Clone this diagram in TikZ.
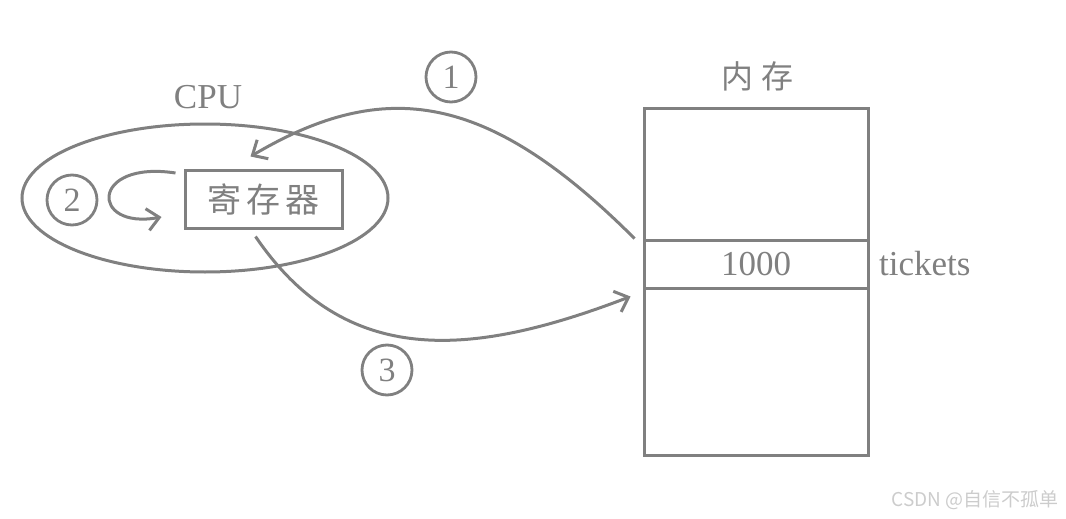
\documentclass[tikz,border=0pt]{standalone}
\usepackage{fontspec}
\setmainfont{Liberation Serif}
\newfontfamily\cjk{Noto Sans CJK SC}
\usetikzlibrary{shapes.geometric, arrows.meta}
\definecolor{pen}{RGB}{128,128,128}
\tikzstyle{title} = [text=pen, font=\fontsize{35}{40}\selectfont]
\tikzstyle{num} = [circle, draw=pen, line width=2.8pt, minimum size=50pt, inner sep=0pt, text=pen, font=\fontsize{34}{36}\selectfont]
\tikzstyle{reg} = [rectangle, draw=pen, line width=3pt, minimum width=157pt, minimum height=58pt, text=pen, font=\cjk\fontsize{34}{38}\selectfont]
\tikzstyle{cell} = [rectangle, draw=pen, line width=3pt, minimum width=224pt, minimum height=48pt, text=pen, font=\fontsize{35}{40}\selectfont]
\tikzstyle{arrow} = [draw=pen, line width=3pt, -{Straight Barb[length=12pt,width=22pt]}]

\begin{document}
\begin{tikzpicture}[x=1pt, y=-1pt]
		\useasboundingbox (0,0) rectangle (1066,519);
		% CPU side
		\node (cpu) [ellipse, draw=pen, line width=3pt, minimum width=366pt, minimum height=148pt] at (205,198) {};
		\node (cpuname) [title] at (208,97) {CPU};
		\node (r) [reg] at (263.5,199) {寄\hspace{5pt}存\hspace{5pt}器};
		\node (n2) [num] at (72,200) {2};
		% memory side
		\node (mem) [rectangle, draw=pen, line width=3pt, minimum width=224pt, minimum height=347pt] at (756,281.5) {};
		\node (memname) [title, font=\cjk\fontsize{32}{36}\selectfont] at (757,76) {内\hspace{8pt}存};
		\node (c) [cell] at (756,264) {1000};
		\node (tk) [title, anchor=west, xshift=6pt] at (c.east) {tickets};
		\node (n1) [num] at (451,77) {1};
		\node (n3) [num] at (387,370) {3};

		\coordinate (a1s) at ([xshift=-8pt]c.north west);
		\coordinate (a1e) at ([xshift=67pt, yshift=12pt]r.north west);
		\coordinate (a3s) at ([xshift=-8pt, yshift=-7pt]r.south);
		\coordinate (a3e) at ([xshift=-12pt, yshift=-7pt]c.south west);
		\coordinate (a2s) at ([xshift=-8pt, yshift=26pt]r.west);
		\coordinate (a2e) at ([xshift=-22pt, yshift=-18pt]r.west);

		\draw [arrow] (a1s) .. controls (488,92) and (385,77) .. (a1e);
		\draw [arrow] (a2s) .. controls (90,160) and (90,230) .. (a2e);
		\draw [arrow] (a3s) .. controls (345,368) and (470,358) .. (a3e);

		\node (mark) [anchor=east, text=gray!40, font=\cjk\fontsize{19}{22}\selectfont] at (1062,500) {CSDN @自信不孤单};
\end{tikzpicture}
\end{document}
